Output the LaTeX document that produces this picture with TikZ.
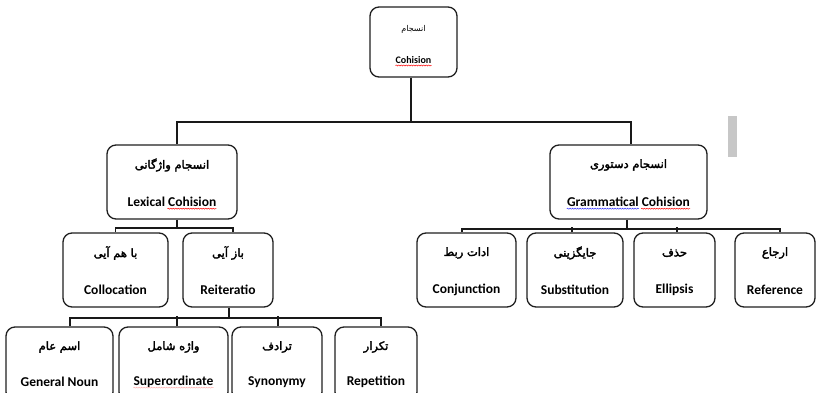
\documentclass[tikz,border=0pt]{standalone}
\usepackage{fontspec}
\setmainfont{Carlito}
\newfontfamily\fab[Script=Arabic,FakeBold=2.6]{DejaVu Sans}
\newfontfamily\fa[Script=Arabic]{DejaVu Sans}
\TeXXeTstate=1
\usetikzlibrary{decorations.pathmorphing}
\tikzset{
  box/.style={draw=black!88, line width=1.3pt, rounded corners=9pt,
    minimum width=#1, minimum height=74pt, inner sep=0pt},
  conn/.style={draw=black!90, line width=1.8pt},
  fatext/.style={font=\fab\fontsize{11.5}{13}\selectfont, inner sep=0pt},
  entext/.style={font=\bfseries\fontsize{13.5}{15}\selectfont, inner sep=0pt},
  squig/.style={draw=#1, line width=0.5pt, decorate,
    decoration={snake, amplitude=0.5pt, segment length=2.5pt}},
}
\begin{document}
\begin{tikzpicture}[x=1pt, y=-1pt]
\useasboundingbox (0,0) rectangle (816,393);
\fill[white] (0,0) rectangle (816,393);
\clip (0,0) rectangle (816,393);

% gray bar
\fill[black!22] (728,116) rectangle (737,157);

% top
\node[box=87pt, minimum height=70pt] (top) at (413.5,42) {};
\node[inner sep=0pt, font=\fa\fontsize{8}{10}\selectfont] (topP) at (413.5,29) {\beginR انسجام\endR};
\node[inner sep=0pt, font=\bfseries\fontsize{10}{12}\selectfont] (topE) at (413.5,60) {Cohision};
\draw[squig=red] ([yshift=-2pt]topE.base west) -- ([yshift=-2pt]topE.base east);

% level 2
\node[box=130pt] (lex) at (172,182) {};
\node[fatext] (lexP) at (172,165) {\beginR انسجام واژگانی\endR};
\node[entext] (lexE) at (172,202) {Lexical Cohision};
\draw[squig=red] ([xshift=-49pt,yshift=-2pt]lexE.base east) -- ([yshift=-2pt]lexE.base east);

\node[box=157pt] (gram) at (628.5,182) {};
\node[fatext] (gramP) at (628.5,165) {\beginR انسجام دستوری\endR};
\node[entext] (gramE) at (628.5,202) {Grammatical Cohision};
\draw[squig=blue!80] ([yshift=-2pt]gramE.base west) -- ([xshift=72pt,yshift=-2pt]gramE.base west);
\draw[squig=red] ([xshift=-49pt,yshift=-2pt]gramE.base east) -- ([yshift=-2pt]gramE.base east);

% level 3 (lexical)
\node[box=105pt] (coll) at (115.5,270) {};
\node[fatext] (collP) at (115.5,253) {\beginR با هم آیی\endR};
\node[entext] (collE) at (115.5,290) {Collocation};

\node[box=90pt] (reit) at (228,270) {};
\node[fatext] (reitP) at (228,253) {\beginR باز آیی\endR};
\node[entext] (reitE) at (228,290) {Reiteratio};

% level 3 (grammatical)
\node[box=99pt] (conj) at (466.5,270) {};
\node[fatext] (conjP) at (466.5,253) {\beginR ادات ربط\endR};
\node[entext] (conjE) at (466.5,290) {Conjunction};

\node[box=96pt] (subs) at (575,270) {};
\node[fatext] (subsP) at (575,253) {\beginR جایگزینی\endR};
\node[entext] (subsE) at (575,290) {Substitution};

\node[box=81pt] (ell) at (674.5,270) {};
\node[fatext] (ellP) at (674.5,253) {\beginR حذف\endR};
\node[entext] (ellE) at (674.5,290) {Ellipsis};

\node[box=80pt] (ref) at (775,270) {};
\node[fatext] (refP) at (775,253) {\beginR ارجاع\endR};
\node[entext] (refE) at (775,290) {Reference};

% level 4
\node[box=107pt] (gn) at (59.5,364) {};
\node[fatext] (gnP) at (59.5,347) {\beginR اسم عام\endR};
\node[entext] (gnE) at (59.5,382) {General Noun};

\node[box=109pt] (sup) at (173.5,364) {};
\node[fatext] (supP) at (173.5,347) {\beginR واژه شامل\endR};
\node[entext] (supE) at (173.5,382) {Superordinate};
\draw[squig=red!30] ([yshift=-2pt]supE.base west) -- ([yshift=-2pt]supE.base east);

\node[box=90pt] (syn) at (277,364) {};
\node[fatext] (synP) at (277,347) {\beginR ترادف\endR};
\node[entext] (synE) at (277,382) {Synonymy};

\node[box=82pt] (rep) at (376,364) {};
\node[fatext] (repP) at (376,347) {\beginR تکرار\endR};
\node[entext] (repE) at (376,382) {Repetition};

% connectors
\draw[conn] ([xshift=-2.5pt]top.south) -- ++(0,44) coordinate (b1);
\draw[conn] ([xshift=5pt]lex.north) |- (b1) -| ([xshift=2.5pt]gram.north);

\draw[conn] ([xshift=5pt]lex.south) -- ++(0,8) coordinate (b2);
\draw[conn] (coll.north) |- (b2) -| ([xshift=5pt]reit.north);

\draw[conn] ([xshift=-1.5pt]gram.south) -- ++(0,9) coordinate (b3);
\draw[conn] ([xshift=-4.5pt]conj.north) |- (b3) -| ([xshift=5pt]ref.north);
\draw[conn] ([xshift=-3pt]subs.north) -- ++(0,-5);
\draw[conn] ([xshift=2.5pt]ell.north) -- ++(0,-5);

\draw[conn] ([xshift=1pt]reit.south) -- ++(0,10) coordinate (b4);
\draw[conn] ([xshift=10.5pt]gn.north) |- (b4) -| ([xshift=5pt]rep.north);
\draw[conn] ([xshift=3.5pt]sup.north) -- ++(0,-10);
\draw[conn] ([xshift=1pt]syn.north) -- ++(0,-10);
\end{tikzpicture}
\end{document}
